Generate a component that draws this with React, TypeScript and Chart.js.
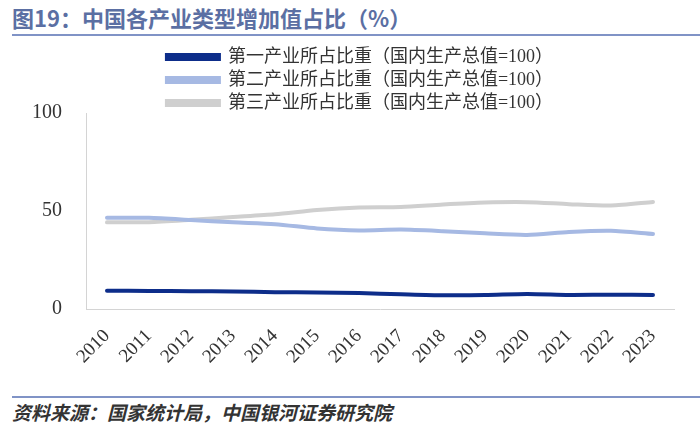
import React, { useEffect, useRef } from "react";
import { Chart, registerables } from "chart.js";

Chart.register(...registerables);

const years = ["2010", "2011", "2012", "2013", "2014", "2015", "2016", "2017", "2018", "2019", "2020", "2021", "2022", "2023"];
const primaryShare = [9.3, 9.2, 9.1, 8.9, 8.6, 8.4, 8.1, 7.5, 7.0, 7.1, 7.7, 7.2, 7.3, 7.1];
const secondaryShare = [46.5, 46.5, 45.4, 44.2, 43.3, 41.1, 40.1, 40.5, 39.7, 38.6, 37.8, 39.3, 39.9, 38.3];
const tertiaryShare = [44.2, 44.3, 45.5, 46.9, 48.3, 50.5, 51.8, 52.0, 53.3, 54.3, 54.5, 53.5, 52.8, 54.6];
const seriesLabels = [
  "第一产业所占比重（国内生产总值=100）",
  "第二产业所占比重（国内生产总值=100）",
  "第三产业所占比重（国内生产总值=100）",
];
const yTicks = [0, 50, 100];

const serif = "'Liberation Serif', 'DejaVu Serif', 'Noto Sans CJK SC', serif";

export default function App() {
  const ref = useRef<HTMLCanvasElement | null>(null);
  useEffect(() => {
    document.body.style.margin = "0";
    if (!ref.current) return;
    const chart = new Chart(ref.current, {
      type: "line",
      data: {
        labels: years,
        datasets: [
          { label: seriesLabels[0], data: primaryShare, borderColor: "#0d2d8a", backgroundColor: "#0d2d8a" },
          { label: seriesLabels[1], data: secondaryShare, borderColor: "#a6b9e3", backgroundColor: "#a6b9e3" },
          { label: seriesLabels[2], data: tertiaryShare, borderColor: "#cfcfcf", backgroundColor: "#cfcfcf" },
        ].map((d) => ({ ...d, borderWidth: 4, pointRadius: 0, tension: 0.25, fill: false, borderCapStyle: "round" as const })),
      },
      options: {
        animation: false,
        responsive: false,
        maintainAspectRatio: false,
        layout: { padding: { left: 20, right: 0, top: 3, bottom: 0 } },
        plugins: {
          tooltip: { enabled: false },
          legend: {
            position: "top",
            align: "center",
            maxHeight: 70,
            labels: {
              boxWidth: 52,
              boxHeight: 4,
              padding: 5,
              color: "#333",
              font: { family: serif, size: 18 },
            },
          },
        },
        scales: {
          x: {
            offset: true,
            grid: { display: false, drawTicks: false },
            border: { color: "#d4d4d4", width: 1 },
            ticks: {
              minRotation: 45,
              maxRotation: 45,
              color: "#333",
              padding: 16,
              font: { family: serif, size: 19 },
            },
            afterFit: (s: any) => {
              s.height = 86;
            },
          },
          y: {
            min: 0,
            max: 100,
            afterBuildTicks: (s: any) => {
              s.ticks = yTicks.map((v) => ({ value: v }));
            },
            grid: { display: false, drawTicks: false },
            border: { color: "#d4d4d4", width: 1 },
            ticks: {
              color: "#333",
              padding: 24,
              font: { family: serif, size: 20 },
            },
            afterFit: (s: any) => {
              s.width = 66;
            },
          },
          yRight: {
            position: "right",
            min: 0,
            max: 100,
            grid: { display: false, drawTicks: false },
            border: { display: false },
            ticks: { display: false },
            afterFit: (s: any) => {
              s.width = 26;
            },
          },
        },
      },
    });
    return () => chart.destroy();
  }, []);

  return (
    <div style={{ position: "relative", width: 700, height: 438, background: "#fff", overflow: "hidden" }}>
      <div
        style={{
          position: "absolute",
          left: 12,
          top: 5,
          fontFamily: "'Noto Sans CJK SC', sans-serif",
          fontWeight: 700,
          fontSize: 22,
          color: "#5b6fa3",
          lineHeight: "24px",
          whiteSpace: "nowrap",
        }}
      >
        图19：中国各产业类型增加值占比（%）
      </div>
      <div style={{ position: "absolute", left: 12, top: 34, width: 688, height: 2, background: "#8093c6" }} />
      <canvas ref={ref} width={700} height={355} style={{ position: "absolute", left: 0, top: 40, width: 700, height: 355 }} />
      <div style={{ position: "absolute", left: 12, top: 396, width: 688, height: 2, background: "#8093c6" }} />
      <div
        style={{
          position: "absolute",
          left: 12,
          top: 400,
          fontFamily: "'Noto Sans CJK SC', sans-serif",
          fontWeight: 700,
          fontStyle: "italic",
          fontSize: 19,
          color: "#333",
          lineHeight: "24px",
          whiteSpace: "nowrap",
        }}
      >
        资料来源：国家统计局，中国银河证券研究院
      </div>
    </div>
  );
}
